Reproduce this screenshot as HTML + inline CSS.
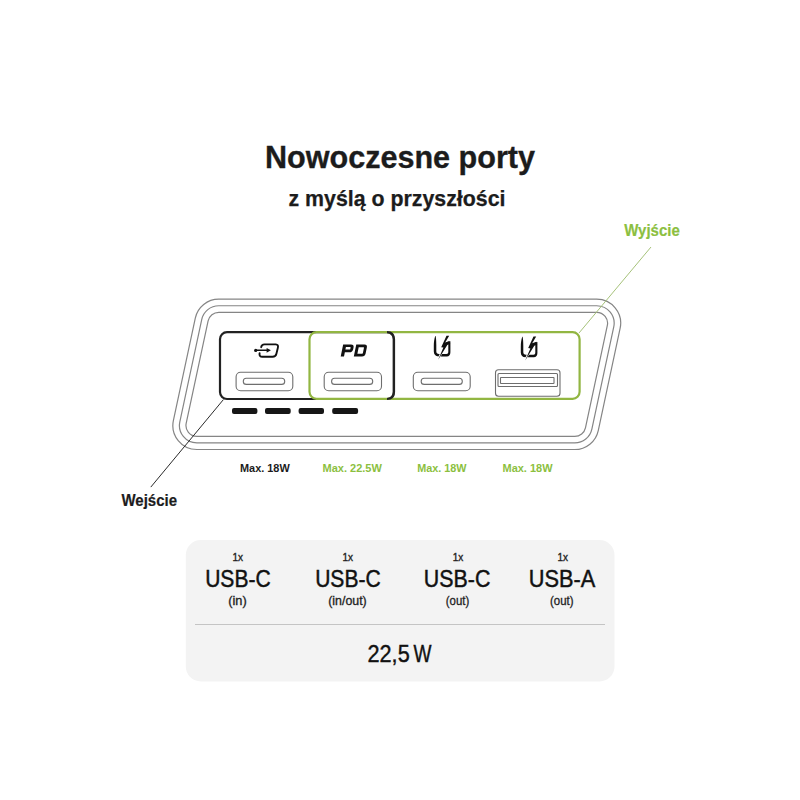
<!DOCTYPE html>
<html><head><meta charset="utf-8">
<style>
html,body{margin:0;padding:0;background:#fff;}
body{width:800px;height:800px;overflow:hidden;position:relative;font-family:"Liberation Sans",sans-serif;}
svg{position:absolute;left:0;top:0;}
</style></head>
<body>
<svg width="800" height="800" viewBox="0 0 800 800" font-family="Liberation Sans, sans-serif">
  <!-- titles -->
  <text x="400" y="168" text-anchor="middle" font-size="32" font-weight="bold" fill="#1c1c1c" stroke="#1c1c1c" stroke-width="0.35" textLength="270" lengthAdjust="spacingAndGlyphs">Nowoczesne porty</text>
  <text x="397" y="206.3" text-anchor="middle" font-size="21.5" font-weight="bold" fill="#1c1c1c" stroke="#1c1c1c" stroke-width="0.25" textLength="217" lengthAdjust="spacingAndGlyphs">z myślą o przyszłości</text>

  <!-- device outline: three skewed rounded rects -->
  <g fill="none" stroke="#858585" stroke-width="1.2">
<path d="M218.77,299.20 L596.68,299.20 A24.00,24.00 0 0 1 620.15,328.22 L598.26,430.52 A24.00,24.00 0 0 1 574.79,449.50 L196.88,449.50 A24.00,24.00 0 0 1 173.41,420.48 L195.30,318.18 A24.00,24.00 0 0 1 218.77,299.20 Z"/>
<path d="M218.77,305.75 L596.68,305.75 A17.45,17.45 0 0 1 613.75,326.85 L591.86,429.15 A17.45,17.45 0 0 1 574.79,442.95 L196.88,442.95 A17.45,17.45 0 0 1 179.82,421.85 L201.71,319.55 A17.45,17.45 0 0 1 218.77,305.75 Z"/>
<path d="M218.77,312.30 L596.68,312.30 A10.90,10.90 0 0 1 607.34,325.48 L585.45,427.78 A10.90,10.90 0 0 1 574.79,436.40 L196.88,436.40 A10.90,10.90 0 0 1 186.22,423.22 L208.11,320.92 A10.90,10.90 0 0 1 218.77,312.30 Z"/>
  </g>

  <!-- callout lines -->
  <line x1="223.4" y1="399.6" x2="150.8" y2="487.1" stroke="#2a2a2a" stroke-width="1"/>
  <line x1="579" y1="333" x2="651" y2="247" stroke="#a6c27a" stroke-width="1"/>

  <!-- black input box -->
  <rect x="220" y="332.2" width="174" height="66.8" rx="7" ry="7" fill="none" stroke="#222" stroke-width="2.2"/>
  <!-- green output box -->
  <rect x="309.5" y="332.2" width="270.1" height="66.6" rx="7" ry="7" fill="none" stroke="#92b642" stroke-width="2.2"/>
  <!-- black right edge on top -->
  <path d="M387,332.2 Q393.8,332.2 393.8,339 L393.8,392 Q393.8,399 387,399" fill="none" stroke="#222" stroke-width="2.2"/>

  <!-- dashes -->
  <g fill="#161616">
    <rect x="232" y="408" width="25.4" height="6" rx="2"/>
    <rect x="265" y="408" width="25.7" height="6" rx="2"/>
    <rect x="298.6" y="408" width="25.4" height="6" rx="2"/>
    <rect x="332.2" y="408" width="25.9" height="6" rx="2"/>
  </g>

  <!-- USB-C ports -->
  <g fill="none" stroke="#6e6e6e" stroke-width="1.1">
    <rect x="236.1" y="372.2" width="56.7" height="18.6" rx="4.5"/>
    <rect x="243.3" y="378.3" width="41.4" height="6.1" rx="3"/>
    <rect x="324.2" y="372.2" width="57.3" height="18.6" rx="4.5"/>
    <rect x="331.6" y="378.3" width="41.1" height="6.1" rx="3"/>
    <rect x="413.3" y="372.2" width="56.9" height="18.6" rx="4.5"/>
    <rect x="421.2" y="378.3" width="41.1" height="6.1" rx="3"/>
    <!-- USB-A -->
    <rect x="495.5" y="369.8" width="64.5" height="26.4" rx="3"/>
    <rect x="498" y="373.5" width="59.5" height="13" rx="1"/>
    <rect x="500.5" y="377.5" width="53.5" height="6" rx="0.5"/>
  </g>

  <!-- input icon -->
  <g fill="none" stroke="#111" stroke-width="1.9" stroke-linecap="round">
    <path d="M261.2,347.2 Q261.6,344.4 264.5,344.4 L275.8,344.4 Q278.6,344.6 277.9,347.6 L276.4,353.8 Q275.7,356.8 272.6,356.8 L262.2,356.8 Q259.4,356.8 259.5,354 L259.6,353.3"/>
    <line x1="256" y1="350.3" x2="267.5" y2="350.3" stroke-width="1.4"/>
  </g>
  <circle cx="255.7" cy="350.4" r="1.6" fill="#111"/>
  <polygon points="266.6,347.9 270.9,350.3 266.6,352.7" fill="#111"/>

  <!-- PD -->
  <g fill="#111" fill-rule="evenodd" transform="translate(0,356.5) skewX(-11.5) translate(0,-356.5)">
    <path d="M340.7,344.4 H348.6 Q351.7,344.4 351.7,347.5 V349.2 Q351.7,352.3 348.6,352.3 H344.0 V356.5 H340.7 Z M344.0,347.1 H348.3 Q348.8,347.1 348.8,347.6 V349.1 Q348.8,349.6 348.3,349.6 H344.0 Z"/>
    <path d="M353.8,344.4 H362.0 Q365.0,344.4 365.0,347.4 V353.5 Q365.0,356.5 362.0,356.5 H353.8 Z M356.8,347.2 H361.6 Q362.2,347.2 362.2,347.8 V353.1 Q362.2,353.7 361.6,353.7 H356.8 Z"/>
  </g>

  <!-- quick charge icons -->
  <g id="qc">
    <path d="M435.2,336.0 C434.3,339 433.8,342 433.8,346 L433.8,351.6 C433.8,354.6 435.5,356.4 438.5,356.4 L446.8,356.4 C449.2,356.4 450.4,354.8 450.4,352.2 L450.4,341.3 L448.3,341.7 L448.3,351.8 C448.3,353.3 447.6,354.0 446.5,354.0 L438.9,354.0 C437.3,354.0 436.3,352.9 436.3,351.2 L436.3,345 C436.3,341 436.1,338.2 435.6,336.0 Z" fill="#111"/>
    <polygon points="444.5,349.5 438.4,360.8 436.8,360.3 441.8,349.5" fill="#fff"/>
    <polygon points="446.5,335.8 449.2,335.8 445.2,342.5 449.4,341.0 450.2,343.8 447.3,344.9 438.15,359.7 443.4,347.6 441.2,347.2 441.9,345.7" fill="#111"/>
  </g>
  <use href="#qc" transform="translate(87,0.8)"/>

  <!-- port labels -->
  <g font-size="11" font-weight="bold">
    <text x="240" y="471.9" fill="#1c1c1c" textLength="49.7" lengthAdjust="spacingAndGlyphs">Max. 18W</text>
    <text x="322.5" y="471.9" fill="#8cbf3f" textLength="59.4" lengthAdjust="spacingAndGlyphs">Max. 22.5W</text>
    <text x="417.2" y="471.9" fill="#8cbf3f" textLength="49.4" lengthAdjust="spacingAndGlyphs">Max. 18W</text>
    <text x="502.5" y="471.9" fill="#8cbf3f" textLength="50" lengthAdjust="spacingAndGlyphs">Max. 18W</text>
  </g>
  <text x="121.5" y="505.8" font-size="16" font-weight="bold" fill="#1c1c1c" stroke="#1c1c1c" stroke-width="0.2" textLength="55.5" lengthAdjust="spacingAndGlyphs">Wejście</text>
  <text x="624.2" y="235.9" font-size="16.5" font-weight="bold" fill="#8cbf3f" stroke="#8cbf3f" stroke-width="0.2" textLength="55.6" lengthAdjust="spacingAndGlyphs">Wyjście</text>

  <!-- spec panel -->
  <rect x="185.8" y="540" width="428.7" height="141.5" rx="15" fill="#f3f3f3"/>
  <line x1="195" y1="624.5" x2="605" y2="624.5" stroke="#c4c4c4" stroke-width="1.2"/>
  <g fill="#111" text-anchor="middle">
    <g font-size="10" fill="#222" stroke="#222" stroke-width="0.35">
      <text x="237.8" y="560.7" textLength="10.5" lengthAdjust="spacingAndGlyphs">1x</text>
      <text x="347.8" y="560.7" textLength="10.5" lengthAdjust="spacingAndGlyphs">1x</text>
      <text x="457.9" y="560.7" textLength="10.5" lengthAdjust="spacingAndGlyphs">1x</text>
      <text x="562.8" y="560.7" textLength="10.5" lengthAdjust="spacingAndGlyphs">1x</text>
    </g>
    <g font-size="23.3" stroke="#111" stroke-width="0.45">
      <text x="237.9" y="587" textLength="65.5" lengthAdjust="spacingAndGlyphs">USB-C</text>
      <text x="347.9" y="587" textLength="65.5" lengthAdjust="spacingAndGlyphs">USB-C</text>
      <text x="457.1" y="587" textLength="66.5" lengthAdjust="spacingAndGlyphs">USB-C</text>
      <text x="562.1" y="587" textLength="66.5" lengthAdjust="spacingAndGlyphs">USB-A</text>
    </g>
    <g font-size="12" fill="#222" stroke="#222" stroke-width="0.3">
      <text x="237.5" y="605.3" textLength="18.5" lengthAdjust="spacingAndGlyphs">(in)</text>
      <text x="347.5" y="605.3" textLength="38.5" lengthAdjust="spacingAndGlyphs">(in/out)</text>
      <text x="457.5" y="605.3" textLength="23.5" lengthAdjust="spacingAndGlyphs">(out)</text>
      <text x="561.8" y="605.3" textLength="23.5" lengthAdjust="spacingAndGlyphs">(out)</text>
    </g>
    <text x="367.5" y="662" font-size="23" stroke="#111" stroke-width="0.4" text-anchor="start" textLength="42.2" lengthAdjust="spacingAndGlyphs">22,5</text>
    <text x="413.6" y="662" font-size="23" stroke="#111" stroke-width="0.4" text-anchor="start" textLength="18" lengthAdjust="spacingAndGlyphs">W</text>
  </g>
</svg>
</body></html>
